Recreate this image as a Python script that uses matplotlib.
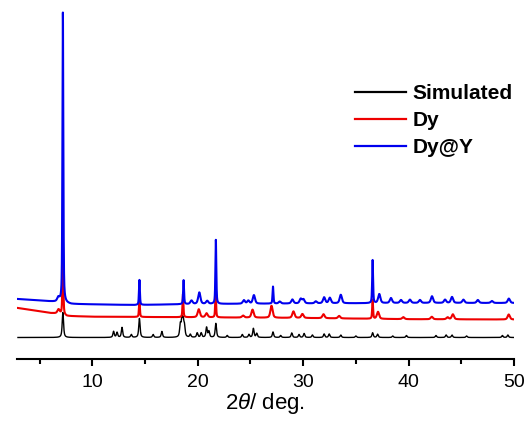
import numpy as np
import matplotlib
matplotlib.use('Agg')
import matplotlib.pyplot as plt

plt.rcParams['font.family'] = ['Liberation Sans', 'DejaVu Sans']
plt.rcParams['mathtext.fontset'] = 'custom'
plt.rcParams['mathtext.it'] = 'Liberation Sans:italic'
plt.rcParams['mathtext.rm'] = 'Liberation Sans'

# peak lists (2theta, height above background), stacked offsets via background
sim_pos = [7.21, 12.02, 12.35, 12.82, 13.70, 14.47, 15.77, 16.60, 18.35, 18.50, 18.62, 18.74,
           19.30, 19.95, 20.33, 20.84, 21.06, 21.72, 22.80, 24.23, 24.86, 25.28, 25.60, 27.14,
           27.87, 28.92, 29.61, 30.09, 30.88, 31.99, 32.47, 33.57, 35.00, 36.59, 37.06, 38.50,
           39.80, 42.60, 43.56, 44.12, 45.50, 48.90, 49.42]
sim_h = [25, 6, 5, 10, 3, 19, 3, 6, 12, 16, 14, 10,
         3, 4.5, 4.5, 10, 6, 14, 2, 3, 3, 9, 4, 5.5,
         2, 4.5, 3, 4, 2.5, 3.5, 3.5, 2.5, 1.5, 4.7, 3.3, 1.5,
         2, 2, 2.5, 2.5, 1.5, 2, 2.5]

dy_pos = [6.80, 7.21, 14.47, 18.60, 20.10, 20.84, 21.70, 24.30, 25.20, 27.00, 29.08, 29.93,
          31.93, 33.41, 36.59, 37.10, 39.50, 42.20, 43.70, 44.20, 49.50]
dy_h = [4, 70, 17, 23, 8, 4, 25, 2, 8, 12, 6.5, 4,
        4, 2.5, 19, 7, 2, 2.5, 2, 5, 5]

dyy_pos = [6.78, 7.21, 14.47, 18.66, 19.41, 20.15, 20.90, 21.72, 24.38, 24.80, 25.33, 27.14,
           27.78, 28.98, 29.77, 30.03, 31.20, 31.99, 32.53, 33.57, 36.59, 37.22, 38.33, 39.28,
           40.13, 41.08, 42.22, 43.46, 44.12, 45.20, 46.57, 47.90, 49.51]
dyy_h = [4, 290, 25, 24, 3.5, 11.5, 3, 64, 3.5, 3, 8.5, 17,
         2, 4, 4.5, 4, 2, 6, 5.5, 8.5, 43, 9, 5, 3,
         3.3, 3, 6.7, 3.3, 6, 3.3, 3, 2, 4.4]

# background levels (2theta, level) for each pattern
sim_bg_x = [2.95, 50]
sim_bg_y = [21.5, 21.5]
dy_bg_x = [2.95, 4.5, 6.0, 6.8, 7.6, 10, 20, 30, 40, 50]
dy_bg_y = [51, 48.5, 46, 45.5, 43, 42.3, 41.7, 41, 39.8, 39.5]
dyy_bg_x = [2.95, 5, 6.8, 8, 14, 20, 30, 40, 50]
dyy_bg_y = [60, 58.5, 57, 55, 54, 55, 55.5, 56, 56]


def pattern(tt, pos, h, bg_x, bg_y, narrow, broad, eta):
    y = np.interp(tt, bg_x, bg_y)
    for p, a in zip(pos, h):
        w = narrow if a > 15 else broad
        d = (tt - p) / (w / 2)
        y = y + a * (eta / (1 + d**2) + (1 - eta) * np.exp(-np.log(2) * d**2))
    return y


tt = np.round(np.arange(2.95, 49.96, 0.01), 2)
sim = pattern(tt, sim_pos, sim_h, sim_bg_x, sim_bg_y, 0.15, 0.15, 0.7)
dy = pattern(tt, dy_pos, dy_h, dy_bg_x, dy_bg_y, 0.10, 0.25, 0.5)
dyy = pattern(tt, dyy_pos, dyy_h, dyy_bg_x, dyy_bg_y, 0.10, 0.25, 0.5)

fig = plt.figure(figsize=(5.29, 4.22), dpi=100)
ax = fig.add_axes([16.7 / 529, 63 / 422, (514 - 16.7) / 529, (359 - 10) / 422])

ax.plot(tt, sim, color='black', lw=1.0, label='Simulated')
ax.plot(tt, dy, color='#ee0000', lw=1.5, label='Dy')
ax.plot(tt, dyy, color='#0000ee', lw=1.5, label='Dy@Y')

ax.set_xlim(2.83, 50)
ax.set_ylim(0, 349)
for s in ['left', 'right', 'top']:
    ax.spines[s].set_visible(False)
ax.spines['bottom'].set_linewidth(1.5)
ax.set_yticks([])
ax.set_xticks([10, 20, 30, 40, 50])
ax.set_xticks([5, 15, 25, 35, 45], minor=True)
ax.tick_params(axis='x', which='major', direction='out', length=5, width=1.5, labelsize=14, pad=6)
ax.tick_params(axis='x', which='minor', direction='out', length=3.5, width=1.5)
ax.set_xlabel(r'2$\it{\theta}$/ deg.', fontsize=16, labelpad=0)

leg = ax.legend(loc='upper left', bbox_to_anchor=(355 / 529, 1 - 84 / 422),
                bbox_transform=fig.transFigure, frameon=False, borderpad=0,
                borderaxespad=0, handlelength=2.45, handletextpad=0.3,
                labelspacing=0.38, prop={'size': 15, 'weight': 'bold'})
for line in leg.get_lines():
    line.set_linewidth(1.6)

fig.savefig('out.png', dpi=100)
